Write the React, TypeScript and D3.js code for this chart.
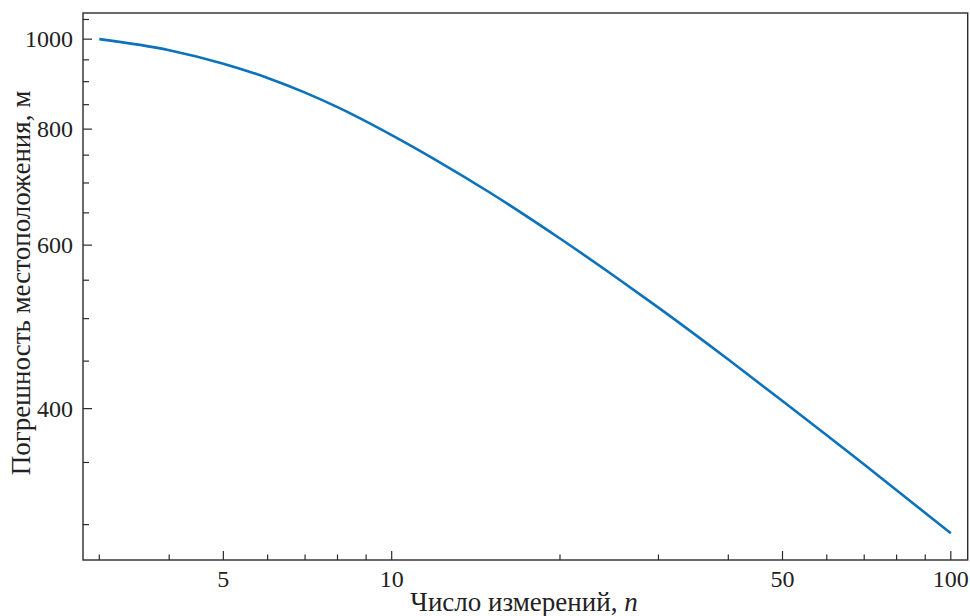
import React from "react";
import * as d3 from "d3";

const nValues = [3, 4, 5, 6, 7, 8, 10, 12, 15, 20, 25, 30, 40, 50, 60, 70, 80, 100];
const errorValues = [1000, 973, 941, 908.2, 875.8, 844.8, 788.2, 740.9, 683.2, 609.9, 555.8, 513.8, 451.8, 407.7, 374.5, 348.2, 326.7, 293.6];
const xMajorTicks = [5, 10, 50, 100];
const xMinorTicks = [3, 4, 6, 7, 8, 9, 20, 30, 40, 60, 70, 80, 90];
const yMajorTicks = [400, 600, 800, 1000];
const yMinorTicks = [300, 350, 450, 500, 550, 650, 700, 750, 850, 900, 950, 1050];

const W = 970;
const H = 616;
const L = 83;
const R = 967.7;
const T = 13;
const B = 560;

const FONT = "Liberation Serif";

export default function App() {
  const x = d3.scaleLog().domain([2.805, 107.2]).range([L, R]);
  const y = d3.scaleLog().domain([274.8, 1067]).range([B, T]);
  const data = nValues.map((n, i) => ({ n, v: errorValues[i] }));
  const line = d3
    .line<{ n: number; v: number }>()
    .x((d) => x(d.n))
    .y((d) => y(d.v))
    .curve(d3.curveMonotoneX);
  const axisColor = "#2b2b2b";
  const textStyle = { fontFamily: FONT };
  return (
    <svg
      width={W}
      height={H}
      style={{ position: "absolute", left: 0, top: 0, background: "#fff" }}
    >
      <rect x={0} y={0} width={W} height={H} fill="#fff" />
      <path d={line(data) || ""} fill="none" stroke="#0b72bb" strokeWidth={2.6} />
      <rect x={L} y={T} width={R - L} height={B - T} fill="none" stroke={axisColor} strokeWidth={1.4} />
      {xMajorTicks.map((t) => (
        <g key={"xM" + t}>
          <line x1={x(t)} x2={x(t)} y1={B} y2={B - 9} stroke={axisColor} strokeWidth={1.2} />
          <text x={x(t)} y={587} textAnchor="middle" fontSize={24} fill="#222" style={textStyle}>
            {String(t)}
          </text>
        </g>
      ))}
      {xMinorTicks.map((t) => (
        <line key={"xm" + t} x1={x(t)} x2={x(t)} y1={B} y2={B - 5.5} stroke={axisColor} strokeWidth={1.2} />
      ))}
      {yMajorTicks.map((t) => (
        <g key={"yM" + t}>
          <line x1={L} x2={L + 9} y1={y(t)} y2={y(t)} stroke={axisColor} strokeWidth={1.2} />
          <text x={73} y={y(t) + 8} textAnchor="end" fontSize={24} fill="#222" style={textStyle}>
            {String(t)}
          </text>
        </g>
      ))}
      {yMinorTicks.map((t) => (
        <line key={"ym" + t} x1={L} x2={L + 6} y1={y(t)} y2={y(t)} stroke={axisColor} strokeWidth={1.2} />
      ))}
      <text x={524} y={611} textAnchor="middle" fontSize={27} fill="#222" style={textStyle}>
        Число измерений, <tspan fontStyle="italic">n</tspan>
      </text>
      <text
        transform={`translate(30, 283) rotate(-90)`}
        textAnchor="middle"
        fontSize={27}
        fill="#222"
        style={textStyle}
      >
        Погрешность местоположения, м
      </text>
    </svg>
  );
}
